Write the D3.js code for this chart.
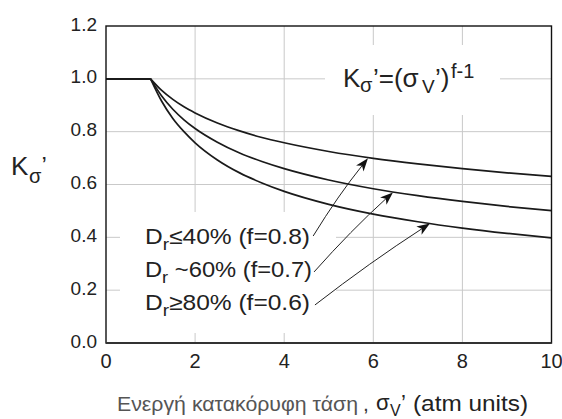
<!DOCTYPE html>
<html>
<head>
<meta charset="utf-8">
<script src="https://cdn.jsdelivr.net/npm/d3@7"></script>
<style>
  html, body { margin: 0; padding: 0; background: #fff; }
  svg { display: block; font-family: "Liberation Sans", Arial, sans-serif; }
</style>
</head>
<body>
<svg id="chart" width="562" height="419"></svg>
<script>
// ---- data ----
const sigma = [0, 1, 1.25, 1.5, 1.75, 2, 2.5, 3, 3.5, 4, 5, 6, 7, 8, 9, 10];
const kLoose = [1, 1, 0.956, 0.922, 0.894, 0.871, 0.833, 0.803, 0.778, 0.758, 0.725, 0.699, 0.678, 0.660, 0.644, 0.631]; // f=0.8
const kMedium = [1, 1, 0.935, 0.885, 0.845, 0.812, 0.760, 0.719, 0.687, 0.660, 0.617, 0.584, 0.558, 0.536, 0.517, 0.501]; // f=0.7
const kDense = [1, 1, 0.915, 0.850, 0.800, 0.758, 0.693, 0.644, 0.606, 0.574, 0.525, 0.488, 0.459, 0.435, 0.415, 0.398]; // f=0.6
const xTicks = [0, 2, 4, 6, 8, 10];
const yTicks = [0, 0.2, 0.4, 0.6, 0.8, 1.0, 1.2];
const legendRel = ["\u2264", " ~", "\u2265"];
const legendRest = ["40% (f=0.8)", "60% (f=0.7)", "80% (f=0.6)"];
// arrows: start (near label end) and tip (on curve), in data units
const arrowStartX = [4.65, 4.67, 4.69];
const arrowStartY = [0.405, 0.269, 0.144];
const arrowTipX = [5.88, 6.44, 7.27];
const arrowTipY = [0.699, 0.570, 0.452];

const svg = d3.select("#chart");
const x = d3.scaleLinear().domain([0, 10]).range([106, 551.5]);
const y = d3.scaleLinear().domain([0, 1.2]).range([343, 26]);

// grid
const grid = svg.append("g").attr("stroke", "#c9c9c9").attr("stroke-width", 1);
grid.selectAll("line.v").data(xTicks.filter(d => d > 0 && d < 10)).join("line")
  .attr("x1", d => x(d)).attr("x2", d => x(d)).attr("y1", y(1.2)).attr("y2", y(0));
grid.selectAll("line.h").data(yTicks.filter(d => d > 0 && d < 1.2)).join("line")
  .attr("y1", d => y(d)).attr("y2", d => y(d)).attr("x1", x(0)).attr("x2", x(10));

// white boxes behind labels (grid is interrupted there)
svg.append("rect").attr("x", 325).attr("y", 45).attr("width", 175).attr("height", 70).attr("fill", "#fff");
svg.append("rect").attr("x", 120).attr("y", 212).attr("width", 216).attr("height", 121).attr("fill", "#fff");

// curves
const series = [kLoose, kMedium, kDense];
const flat = d3.line().x(d => x(d[0])).y(d => y(d[1]));
const curved = d3.line().x(d => x(d[0])).y(d => y(d[1])).curve(d3.curveMonotoneX);
series.forEach(vals => {
  const pts = sigma.map((s, i) => [s, vals[i]]);
  svg.append("path").attr("d", flat(pts.filter(p => p[0] <= 1)))
    .attr("fill", "none").attr("stroke", "#1a1a1a").attr("stroke-width", 1.7);
  svg.append("path").attr("d", curved(pts.filter(p => p[0] >= 1)))
    .attr("fill", "none").attr("stroke", "#1a1a1a").attr("stroke-width", 1.7);
});

// arrows
arrowTipX.forEach((tx, i) => {
  const x0 = x(arrowStartX[i]), y0 = y(arrowStartY[i]);
  const x1 = x(tx), y1 = y(arrowTipY[i]);
  const mx = (x0 + x1) / 2, my = (y0 + y1) / 2;
  const dx = x1 - x0, dy = y1 - y0, len = Math.hypot(dx, dy);
  const cx = mx + (-dy / len) * -3, cy = my + (dx / len) * -3;
  const ang = Math.atan2(y1 - cy, x1 - cx);
  const backX = x1 - Math.cos(ang) * 9, backY = y1 - Math.sin(ang) * 9;
  svg.append("path").attr("d", `M${x0},${y0} Q${cx},${cy} ${backX},${backY}`)
    .attr("fill", "none").attr("stroke", "#222").attr("stroke-width", 1);
  svg.append("path").attr("d", "M0,0 L-13,-4.8 L-9.5,0 L-13,4.8 Z")
    .attr("transform", `translate(${x1},${y1}) rotate(${ang * 180 / Math.PI})`)
    .attr("fill", "#111");
});

// frame
svg.append("rect").attr("x", x(0)).attr("y", y(1.2)).attr("width", x(10) - x(0)).attr("height", y(0) - y(1.2))
  .attr("fill", "none").attr("stroke", "#111").attr("stroke-width", 1.4);
svg.append("line").attr("x1", x(0)).attr("x2", x(10)).attr("y1", y(0)).attr("y2", y(0))
  .attr("stroke", "#333").attr("stroke-width", 2);

// tick labels
svg.append("g").selectAll("text").data(yTicks).join("text")
  .attr("x", 97).attr("y", d => y(d) + 4.5).attr("text-anchor", "end")
  .attr("font-size", 19).attr("fill", "#222").text(d => d3.format(".1f")(d));
svg.append("g").selectAll("text").data(xTicks).join("text")
  .attr("x", d => x(d)).attr("y", 368).attr("text-anchor", "middle")
  .attr("font-size", 20).attr("fill", "#222").text(d => d);

// y-axis label K_sigma'
svg.append("text").attr("x", 11).attr("y", 175).attr("font-size", 26).attr("fill", "#222").text("K");
svg.append("text").attr("x", 29).attr("y", 183).attr("font-size", 20).attr("fill", "#222").text("\u03C3");
svg.append("text").attr("x", 41.5).attr("y", 174).attr("font-size", 24).attr("fill", "#222").text("\u2019");

// formula
const fm = svg.append("g").attr("fill", "#222");
fm.append("text").attr("x", 343).attr("y", 87).attr("font-size", 26).text("K");
fm.append("text").attr("x", 360).attr("y", 92).attr("font-size", 20).text("\u03C3");
fm.append("text").attr("x", 373).attr("y", 87).attr("font-size", 26).text("\u2019=(\u03C3");
fm.append("text").attr("x", 422).attr("y", 93).attr("font-size", 19).text("V");
fm.append("text").attr("x", 435).attr("y", 87).attr("font-size", 26).text("\u2019)");
fm.append("text").attr("x", 451).attr("y", 78).attr("font-size", 20).text("f-1");

// legend labels
const baseY = [243.5, 276.5, 310];
legendRest.forEach((t, i) => {
  const tx = svg.append("text").attr("x", 145).attr("y", baseY[i]).attr("font-size", 22).attr("fill", "#222")
    .attr("textLength", i === 1 ? 167 : 165).attr("lengthAdjust", "spacingAndGlyphs");
  tx.append("tspan").text("D");
  tx.append("tspan").attr("dy", 6).attr("font-size", 17).text("r");
  tx.append("tspan").attr("dy", -6).text(legendRel[i] + t);
});

// x-axis title
svg.append("text").attr("x", 117).attr("y", 411).attr("font-size", 21).attr("fill", "#555")
  .attr("textLength", 241).attr("lengthAdjust", "spacingAndGlyphs").text("\u0395\u03BD\u03B5\u03C1\u03B3\u03AE \u03BA\u03B1\u03C4\u03B1\u03BA\u03CC\u03C1\u03C5\u03C6\u03B7 \u03C4\u03AC\u03C3\u03B7");
svg.append("text").attr("x", 363).attr("y", 411).attr("font-size", 21).attr("fill", "#333").text(",");
svg.append("text").attr("x", 376).attr("y", 410).attr("font-size", 22).attr("fill", "#222").text("\u03C3");
svg.append("text").attr("x", 390).attr("y", 416).attr("font-size", 16).attr("fill", "#222").text("V");
svg.append("text").attr("x", 401).attr("y", 410).attr("font-size", 22).attr("fill", "#222").text("\u2019");
svg.append("text").attr("x", 413).attr("y", 411).attr("font-size", 22).attr("fill", "#222")
  .attr("textLength", 115).attr("lengthAdjust", "spacingAndGlyphs").text("(atm units)");
</script>
</body>
</html>
